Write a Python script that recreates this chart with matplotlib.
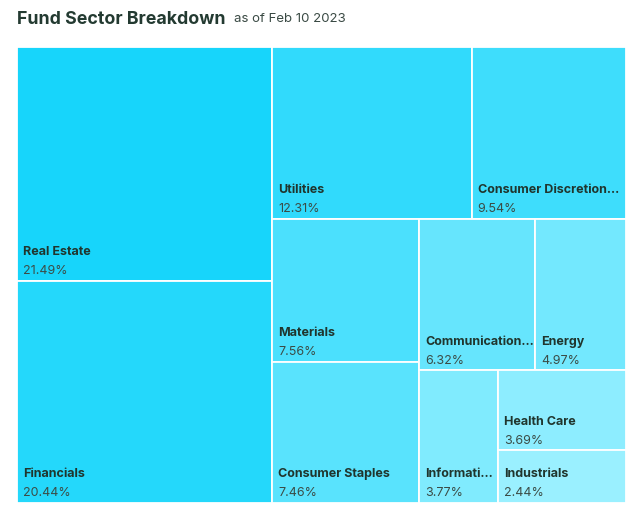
import matplotlib
matplotlib.use("Agg")
import matplotlib.pyplot as plt
from matplotlib.patches import Rectangle
from matplotlib.colors import to_rgb

# ---- data ----
sectors = ["Real Estate", "Financials", "Utilities", "Consumer Discretionary",
           "Materials", "Consumer Staples", "Communication Services", "Energy",
           "Information Technology", "Health Care", "Industrials"]
weights = [21.49, 20.44, 12.31, 9.54, 7.56, 7.46, 6.32, 4.97, 3.77, 3.69, 2.44]
title_text = "Fund Sector Breakdown"
subtitle_text = "as of Feb 10 2023"

W, H = 609.0, 456.0
FONT = ["Inter", "DejaVu Sans"]


# ---- squarified treemap layout ----
def layout(sizes, x, y, dx, dy):
    covered = sum(sizes)
    rects = []
    if dx >= dy:
        width = covered / dy
        cy = y
        for s in sizes:
            rects.append((x, cy, width, s / width))
            cy += s / width
    else:
        height = covered / dx
        cx = x
        for s in sizes:
            rects.append((cx, y, s / height, height))
            cx += s / height
    return rects


def leftover(sizes, x, y, dx, dy):
    covered = sum(sizes)
    if dx >= dy:
        width = covered / dy
        return x + width, y, dx - width, dy
    height = covered / dx
    return x, y + height, dx, dy - height


def worst(sizes, x, y, dx, dy):
    return max(max(r[2] / r[3], r[3] / r[2]) for r in layout(sizes, x, y, dx, dy))


def squarify(sizes, x, y, dx, dy):
    if len(sizes) == 0:
        return []
    if len(sizes) == 1:
        return layout(sizes, x, y, dx, dy)
    i = 1
    while i < len(sizes) and worst(sizes[:i], x, y, dx, dy) >= worst(sizes[:i + 1], x, y, dx, dy):
        i += 1
    cur, rem = sizes[:i], sizes[i:]
    lx, ly, ldx, ldy = leftover(cur, x, y, dx, dy)
    return layout(cur, x, y, dx, dy) + squarify(rem, lx, ly, ldx, ldy)


total = sum(weights)
areas = [v * W * H / total for v in weights]
rects = squarify(areas, 0, 0, W, H)

# colours by rank, dark -> light
c0 = to_rgb("#17D5FB")
c1 = to_rgb("#9AF0FF")
n = len(weights)
order = sorted(range(n), key=lambda k: -weights[k])
colors = [None] * n
for rank, k in enumerate(order):
    t = rank / (n - 1)
    colors[k] = tuple(a + (b - a) * t for a, b in zip(c0, c1))

fig = plt.figure(figsize=(6.4, 5.15), dpi=100)
ax = fig.add_axes([17 / 640, (515 - 503) / 515, W / 640, H / 515])
ax.set_xlim(0, W)
ax.set_ylim(H, 0)
ax.axis("off")

fig.text(17 / 640, 1 - 19 / 515, title_text, fontsize=12.8, fontweight="bold",
         color="#233A31", family=FONT, va="center", ha="left")
fig.text(234 / 640, 1 - 19.5 / 515, subtitle_text, fontsize=9.5, color="#3A4A44",
         family=FONT, va="center", ha="left")

fig.canvas.draw()
renderer = fig.canvas.get_renderer()


def fit_label(text, maxw, **kw):
    t = ax.text(0, 0, text, **kw)
    w = t.get_window_extent(renderer).width
    if w <= maxw:
        t.remove()
        return text
    s = text
    while len(s) > 1:
        s = s[:-1]
        t.set_text(s + "...")
        if t.get_window_extent(renderer).width <= maxw:
            break
    t.remove()
    return s + "..."


name_kw = dict(fontsize=9, fontweight="bold", color="#20352D", family=FONT)
pct_kw = dict(fontsize=9, color="#3B4C46", family=FONT)

for (x, y, w, h), name, v, c in zip(rects, sectors, weights, colors):
    ax.add_patch(Rectangle((x, y), w, h, facecolor=c, edgecolor="white", linewidth=1.3))
    label = fit_label(name, w - 7, **name_kw)
    ax.text(x + 6, y + h - 28.5, label, va="center", ha="left", **name_kw)
    ax.text(x + 6, y + h - 9.5, f"{v:.2f}%", va="center", ha="left", **pct_kw)

fig.savefig("out.png", dpi=100, facecolor="white")
